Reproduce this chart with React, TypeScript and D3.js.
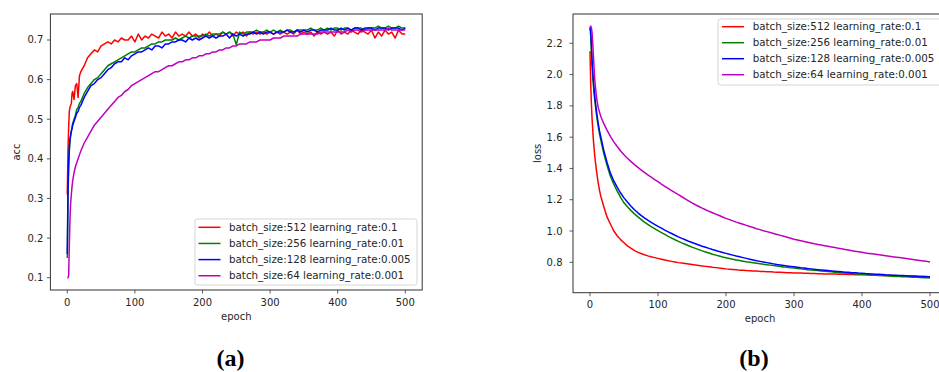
import React from 'react';
import * as d3 from 'd3';

// ---------- DATA ----------
const EPOCHS = [
  0, 1, 2, 3, 4, 5, 6, 7, 8, 10,
  12, 14, 16, 18, 20, 25, 30, 35, 40, 45,
  50, 55, 60, 65, 70, 75, 80, 85, 90, 95,
  100, 105, 110, 115, 120, 125, 130, 135, 140, 145,
  150, 155, 160, 165, 170, 175, 180, 185, 190, 195,
  200, 205, 210, 215, 220, 225, 230, 235, 240, 245,
  250, 255, 260, 265, 270, 275, 280, 285, 290, 295,
  300, 305, 310, 315, 320, 325, 330, 335, 340, 345,
  350, 355, 360, 365, 370, 375, 380, 385, 390, 395,
  400, 405, 410, 415, 420, 425, 430, 435, 440, 445,
  450, 455, 460, 465, 470, 475, 480, 485, 490, 495,
  500,
];

const SERIES_LABELS = [
  'batch_size:512 learning_rate:0.1',
  'batch_size:256 learning_rate:0.01',
  'batch_size:128 learning_rate:0.005',
  'batch_size:64 learning_rate:0.001',
];

const ACC_BS512 = [
  0.31, 0.42, 0.48, 0.52, 0.53, 0.535, 0.54, 0.565, 0.57, 0.55,
  0.585, 0.59, 0.555, 0.61, 0.62, 0.635, 0.655, 0.665, 0.675, 0.67,
  0.685, 0.69, 0.695, 0.69, 0.70, 0.695, 0.705, 0.70, 0.70, 0.71,
  0.695, 0.715, 0.70, 0.71, 0.705, 0.715, 0.71, 0.705, 0.72, 0.71,
  0.715, 0.705, 0.72, 0.71, 0.715, 0.71, 0.72, 0.71, 0.715, 0.705,
  0.715, 0.71, 0.72, 0.71, 0.715, 0.71, 0.72, 0.715, 0.72, 0.71,
  0.72, 0.715, 0.72, 0.71, 0.72, 0.715, 0.72, 0.715, 0.72, 0.715,
  0.72, 0.715, 0.72, 0.715, 0.72, 0.715, 0.72, 0.715, 0.725, 0.715,
  0.72, 0.715, 0.72, 0.71, 0.72, 0.715, 0.72, 0.715, 0.72, 0.71,
  0.725, 0.715, 0.72, 0.715, 0.725, 0.72, 0.715, 0.725, 0.72, 0.715,
  0.725, 0.705, 0.72, 0.71, 0.725, 0.715, 0.72, 0.705, 0.725, 0.715,
  0.715,
];
const ACC_BS256 = [
  0.15, 0.30, 0.38, 0.42, 0.445, 0.46, 0.47, 0.48, 0.49, 0.50,
  0.51, 0.525, 0.53, 0.54, 0.545, 0.565, 0.58, 0.59, 0.60, 0.605,
  0.615, 0.625, 0.635, 0.64, 0.645, 0.65, 0.655, 0.66, 0.665, 0.67,
  0.67, 0.675, 0.68, 0.68, 0.685, 0.69, 0.69, 0.695, 0.695, 0.70,
  0.70, 0.70, 0.705, 0.70, 0.705, 0.71, 0.705, 0.71, 0.71, 0.71,
  0.71, 0.715, 0.71, 0.715, 0.715, 0.715, 0.72, 0.715, 0.72, 0.715,
  0.688, 0.72, 0.715, 0.72, 0.72, 0.72, 0.725, 0.72, 0.72, 0.725,
  0.72, 0.725, 0.72, 0.725, 0.72, 0.725, 0.725, 0.72, 0.725, 0.725,
  0.725, 0.725, 0.73, 0.725, 0.725, 0.73, 0.725, 0.73, 0.725, 0.73,
  0.73, 0.725, 0.73, 0.73, 0.725, 0.73, 0.73, 0.73, 0.725, 0.73,
  0.73, 0.73, 0.735, 0.73, 0.73, 0.735, 0.73, 0.73, 0.735, 0.73,
  0.73,
];
const ACC_BS128 = [
  0.16, 0.32, 0.39, 0.43, 0.45, 0.46, 0.47, 0.475, 0.485, 0.495,
  0.505, 0.515, 0.52, 0.53, 0.535, 0.555, 0.57, 0.585, 0.59, 0.60,
  0.605, 0.615, 0.625, 0.63, 0.64, 0.645, 0.645, 0.655, 0.65, 0.66,
  0.665, 0.67, 0.67, 0.675, 0.68, 0.675, 0.685, 0.685, 0.68, 0.69,
  0.69, 0.695, 0.695, 0.70, 0.70, 0.695, 0.705, 0.70, 0.705, 0.70,
  0.705, 0.71, 0.705, 0.71, 0.705, 0.71, 0.71, 0.715, 0.705, 0.715,
  0.71, 0.715, 0.71, 0.715, 0.715, 0.72, 0.715, 0.72, 0.715, 0.72,
  0.72, 0.715, 0.72, 0.72, 0.72, 0.725, 0.72, 0.72, 0.725, 0.72,
  0.725, 0.72, 0.725, 0.725, 0.72, 0.725, 0.725, 0.725, 0.73, 0.725,
  0.725, 0.73, 0.725, 0.73, 0.725, 0.73, 0.73, 0.725, 0.73, 0.73,
  0.73, 0.725, 0.73, 0.73, 0.73, 0.725, 0.73, 0.73, 0.73, 0.725,
  0.73,
];
const ACC_BS64 = [
  0.10, 0.10, 0.105, 0.18, 0.25, 0.29, 0.31, 0.33, 0.345, 0.365,
  0.38, 0.39, 0.40, 0.41, 0.42, 0.44, 0.455, 0.47, 0.485, 0.495,
  0.505, 0.515, 0.525, 0.535, 0.545, 0.555, 0.56, 0.57, 0.575, 0.585,
  0.59, 0.595, 0.60, 0.605, 0.61, 0.615, 0.62, 0.62, 0.625, 0.63,
  0.635, 0.635, 0.64, 0.645, 0.645, 0.65, 0.65, 0.655, 0.655, 0.66,
  0.66, 0.665, 0.665, 0.67, 0.67, 0.675, 0.675, 0.68, 0.68, 0.685,
  0.685, 0.69, 0.69, 0.69, 0.695, 0.695, 0.695, 0.70, 0.70, 0.70,
  0.70, 0.705, 0.705, 0.705, 0.71, 0.71, 0.71, 0.71, 0.71, 0.715,
  0.715, 0.715, 0.715, 0.715, 0.715, 0.72, 0.72, 0.72, 0.72, 0.72,
  0.72, 0.72, 0.72, 0.725, 0.72, 0.725, 0.725, 0.72, 0.725, 0.725,
  0.725, 0.725, 0.725, 0.725, 0.725, 0.73, 0.725, 0.725, 0.725, 0.725,
  0.725,
];

const LOSS_BS512 = [
  2.15, 1.95, 1.82, 1.72, 1.65, 1.58, 1.53, 1.48, 1.44, 1.37,
  1.31, 1.26, 1.22, 1.19, 1.16, 1.09, 1.045, 1.0, 0.97, 0.945,
  0.925, 0.905, 0.89, 0.876, 0.865, 0.856, 0.848, 0.841, 0.835, 0.83,
  0.825, 0.82, 0.815, 0.81, 0.806, 0.802, 0.798, 0.795, 0.792, 0.789,
  0.786, 0.783, 0.78, 0.777, 0.774, 0.771, 0.768, 0.766, 0.763, 0.761,
  0.758, 0.756, 0.754, 0.752, 0.75, 0.749, 0.747, 0.746, 0.745, 0.744,
  0.742, 0.742, 0.74, 0.74, 0.738, 0.737, 0.736, 0.735, 0.734, 0.733,
  0.732, 0.732, 0.731, 0.73, 0.73, 0.729, 0.728, 0.727, 0.727, 0.726,
  0.726, 0.725, 0.725, 0.724, 0.723, 0.723, 0.722, 0.722, 0.721, 0.72,
  0.72, 0.72, 0.719, 0.718, 0.718, 0.717, 0.716, 0.716, 0.715, 0.715,
  0.714, 0.714, 0.713, 0.713, 0.712, 0.711, 0.711, 0.71, 0.71, 0.709,
  0.708,
];
const LOSS_BS256 = [
  2.30, 2.25, 2.15, 2.06, 1.99, 1.93, 1.88, 1.84, 1.80, 1.73,
  1.67, 1.62, 1.58, 1.54, 1.50, 1.42, 1.35, 1.30, 1.255, 1.215,
  1.18, 1.155, 1.132, 1.111, 1.092, 1.074, 1.057, 1.042, 1.028, 1.015,
  1.002, 0.99, 0.978, 0.966, 0.955, 0.944, 0.934, 0.924, 0.915, 0.906,
  0.897, 0.889, 0.881, 0.873, 0.866, 0.859, 0.852, 0.846, 0.84, 0.834,
  0.829, 0.824, 0.819, 0.815, 0.811, 0.807, 0.803, 0.8, 0.797, 0.794,
  0.791, 0.788, 0.785, 0.782, 0.779, 0.776, 0.773, 0.77, 0.768, 0.765,
  0.763, 0.76, 0.758, 0.756, 0.753, 0.751, 0.749, 0.747, 0.745, 0.743,
  0.741, 0.739, 0.737, 0.735, 0.733, 0.731, 0.73, 0.728, 0.726, 0.725,
  0.723, 0.722, 0.72, 0.719, 0.718, 0.716, 0.715, 0.714, 0.712, 0.711,
  0.71, 0.709, 0.708, 0.707, 0.706, 0.705, 0.704, 0.703, 0.702, 0.701,
  0.70,
];
const LOSS_BS128 = [
  2.30, 2.28, 2.20, 2.10, 2.02, 1.96, 1.91, 1.86, 1.82, 1.75,
  1.69, 1.64, 1.60, 1.56, 1.52, 1.44, 1.37, 1.32, 1.28, 1.243,
  1.212, 1.185, 1.16, 1.138, 1.118, 1.1, 1.084, 1.069, 1.055, 1.042,
  1.03, 1.018, 1.006, 0.995, 0.984, 0.973, 0.963, 0.953, 0.944, 0.935,
  0.927, 0.919, 0.911, 0.903, 0.896, 0.889, 0.882, 0.876, 0.869, 0.863,
  0.857, 0.851, 0.846, 0.84, 0.835, 0.83, 0.825, 0.82, 0.815, 0.81,
  0.806, 0.802, 0.798, 0.794, 0.79, 0.786, 0.783, 0.78, 0.777, 0.774,
  0.771, 0.768, 0.765, 0.763, 0.76, 0.758, 0.755, 0.753, 0.751, 0.749,
  0.747, 0.745, 0.743, 0.741, 0.739, 0.737, 0.736, 0.734, 0.733, 0.731,
  0.73, 0.728, 0.727, 0.726, 0.724, 0.723, 0.722, 0.72, 0.719, 0.718,
  0.717, 0.716, 0.715, 0.714, 0.713, 0.712, 0.711, 0.71, 0.709, 0.708,
  0.707,
];
const LOSS_BS64 = [
  2.30, 2.31, 2.30, 2.27, 2.20, 2.12, 2.04, 1.97, 1.92, 1.84,
  1.79, 1.76, 1.73, 1.71, 1.69, 1.645, 1.605, 1.57, 1.54, 1.512,
  1.487, 1.465, 1.445, 1.426, 1.408, 1.391, 1.375, 1.359, 1.344, 1.329,
  1.315, 1.3, 1.286, 1.272, 1.258, 1.245, 1.232, 1.219, 1.206, 1.193,
  1.18, 1.168, 1.157, 1.146, 1.136, 1.126, 1.117, 1.108, 1.099, 1.09,
  1.081, 1.073, 1.065, 1.057, 1.05, 1.043, 1.036, 1.029, 1.022, 1.015,
  1.009, 1.002, 0.996, 0.99, 0.984, 0.978, 0.972, 0.966, 0.96, 0.954,
  0.948, 0.943, 0.938, 0.933, 0.928, 0.923, 0.918, 0.914, 0.91, 0.906,
  0.902, 0.898, 0.894, 0.89, 0.886, 0.882, 0.878, 0.874, 0.87, 0.867,
  0.864, 0.86, 0.857, 0.854, 0.851, 0.848, 0.845, 0.842, 0.839, 0.836,
  0.833, 0.83, 0.827, 0.824, 0.821, 0.818, 0.815, 0.812, 0.809, 0.806,
  0.802,
];

const EPOCH_TICKS = [0, 100, 200, 300, 400, 500];
const ACC_TICKS = [0.1, 0.2, 0.3, 0.4, 0.5, 0.6, 0.7];
const LOSS_TICKS = [0.8, 1.0, 1.2, 1.4, 1.6, 1.8, 2.0, 2.2];

// ---------- STYLE ----------
const COLORS = ['#ff0000', '#008000', '#0000ff', '#bf00bf'];
const FONT = '"DejaVu Sans", sans-serif';
const TXT = '#262626';

type PanelProps = {
  left: number; right: number; top: number; bottom: number;
  xDomain: [number, number]; yDomain: [number, number];
  series: number[][]; yTicks: number[]; yFmt: (v: number) => string;
  yLabel: string; yLabelX: number; yTickGap: number;
  xLabelY: number; xTickY: number;
  legend: { x: number; y: number; w: number; h: number; lineX: number; textX: number; rowY: number; step: number };
  caption: string; captionX: number;
};

function Panel(p: PanelProps) {
  const x = d3.scaleLinear().domain(p.xDomain).range([p.left, p.right]);
  const y = d3.scaleLinear().domain(p.yDomain).range([p.bottom, p.top]);
  const line = d3.line<number>().x((_, i) => x(EPOCHS[i])).y((d) => y(d));
  const clipId = 'clip-' + p.yLabel;
  return (
    <g>
      <defs>
        <clipPath id={clipId}>
          <rect x={p.left} y={p.top} width={p.right - p.left} height={p.bottom - p.top} />
        </clipPath>
      </defs>
      <g clipPath={`url(#${clipId})`}>
        {p.series.map((s, i) => (
          <path key={i} d={line(s) || ''} fill="none" stroke={COLORS[i]} strokeWidth={1.5} strokeLinejoin="round" />
        ))}
      </g>
      <rect x={p.left} y={p.top} width={p.right - p.left} height={p.bottom - p.top} fill="none" stroke="#333" strokeWidth={1} />
      {EPOCH_TICKS.map((t) => (
        <g key={'x' + t}>
          <line x1={x(t)} x2={x(t)} y1={p.bottom} y2={p.bottom + 3.5} stroke="#333" strokeWidth={0.8} />
          <text x={x(t)} y={p.xTickY} textAnchor="middle" fontFamily={FONT} fontSize={10} fill={TXT}>{t}</text>
        </g>
      ))}
      {p.yTicks.map((t) => (
        <g key={'y' + t}>
          <line x1={p.left - 3.5} x2={p.left} y1={y(t)} y2={y(t)} stroke="#333" strokeWidth={0.8} />
          <text x={p.left - p.yTickGap} y={y(t)} dy="0.35em" textAnchor="end" fontFamily={FONT} fontSize={10} fill={TXT}>{p.yFmt(t)}</text>
        </g>
      ))}
      <text x={(x(p.xDomain[0]) + x(p.xDomain[1])) / 2} y={p.xLabelY} textAnchor="middle" fontFamily={FONT} fontSize={10} fill={TXT}>epoch</text>
      <text transform={`translate(${p.yLabelX},${(p.top + p.bottom) / 2}) rotate(-90)`} textAnchor="middle" dy="0.35em" fontFamily={FONT} fontSize={10} fill={TXT}>{p.yLabel}</text>
      <rect x={p.legend.x} y={p.legend.y} width={p.legend.w} height={p.legend.h} rx={2.5} fill="#fff" fillOpacity={0.8} stroke="#d5d5d5" strokeWidth={1} />
      {SERIES_LABELS.map((lab, i) => {
        const ry = p.legend.rowY + i * p.legend.step;
        return (
          <g key={lab}>
            <line x1={p.legend.lineX} x2={p.legend.lineX + 22} y1={ry} y2={ry} stroke={COLORS[i]} strokeWidth={1.5} />
            <text x={p.legend.textX} y={ry} dy="0.35em" fontFamily={FONT} fontSize={10.3} fill={TXT}>{lab}</text>
          </g>
        );
      })}
      <text x={p.captionX} y={366} textAnchor="middle" fontFamily='"Liberation Serif", serif' fontWeight="bold" fontSize={24} fill="#000">{p.caption}</text>
    </g>
  );
}

export default function App() {
  return (
    <svg width={939} height={372} style={{ position: 'absolute', left: 0, top: 0, background: '#fff' }}>
      <rect x={0} y={0} width={939} height={372} fill="#fff" />
      <Panel
        left={50.4} right={422.2} top={14} bottom={290}
        xDomain={[-25, 525]} yDomain={[0.06895, 0.7656]}
        series={[ACC_BS512, ACC_BS256, ACC_BS128, ACC_BS64]}
        yTicks={ACC_TICKS} yFmt={(v) => v.toFixed(1)}
        yLabel="acc" yLabelX={16} yTickGap={7}
        xLabelY={319.5} xTickY={305.5}
        legend={{ x: 195, y: 219, w: 222, h: 66, lineX: 198.5, textX: 229, rowY: 227.3, step: 16.15 }}
        caption="(a)" captionX={230.5}
      />
      <Panel
        left={573} right={947} top={14} bottom={292.7}
        xDomain={[-25, 525]} yDomain={[0.6057, 2.3873]}
        series={[LOSS_BS512, LOSS_BS256, LOSS_BS128, LOSS_BS64]}
        yTicks={LOSS_TICKS} yFmt={(v) => v.toFixed(1)}
        yLabel="loss" yLabelX={537.5} yTickGap={10.5}
        xLabelY={322} xTickY={308}
        legend={{ x: 718, y: 19, w: 240, h: 66, lineX: 722, textX: 752.7, rowY: 26.7, step: 16 }}
        caption="(b)" captionX={754}
      />
    </svg>
  );
}
